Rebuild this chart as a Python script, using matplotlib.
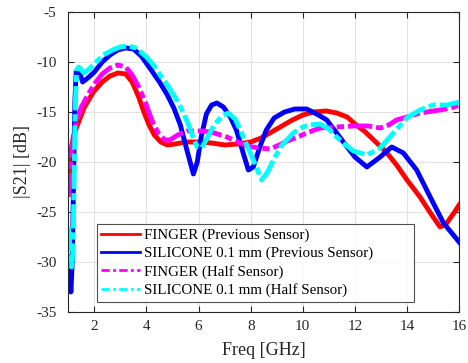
import numpy as np
import matplotlib.pyplot as plt

# S21 traces (GHz, dB)
f_red = [1.0, 1.1, 1.2, 1.35, 1.6, 1.96, 2.3, 2.6, 2.9, 3.2, 3.45, 3.7, 3.9, 4.1,
         4.3, 4.55, 4.8, 5.1, 5.5, 6.0, 6.5, 7.0, 7.5, 8.0, 8.4, 8.8, 9.2, 9.6,
         10.0, 10.4, 10.9, 11.3, 11.7, 12.0, 12.4, 12.8, 13.2, 13.6, 14.0, 14.5,
         14.9, 15.27, 15.5, 15.8, 16.0]
s_red = [-21.5, -18.8, -17.4, -16.3, -14.6, -13.0, -12.0, -11.4, -11.1, -11.2,
         -12.0, -13.5, -15.0, -16.3, -17.3, -18.0, -18.3, -18.2, -18.0, -18.0,
         -18.1, -18.3, -18.2, -18.0, -17.6, -17.0, -16.4, -15.8, -15.3, -15.0,
         -14.9, -15.1, -15.5, -16.2, -17.0, -18.0, -19.0, -20.3, -21.8, -23.5,
         -25.1, -26.5, -26.2, -25.1, -24.3]

f_blue = [1.0, 1.05, 1.1, 1.15, 1.2, 1.25, 1.3, 1.4, 1.55, 1.75, 2.0, 2.3, 2.6,
          2.9, 3.2, 3.5, 3.8, 4.1, 4.5, 4.8, 5.05, 5.3, 5.55, 5.8, 5.95, 6.1,
          6.3, 6.5, 6.7, 6.95, 7.2, 7.45, 7.7, 7.91, 8.1, 8.35, 8.6, 8.9, 9.3,
          9.7, 10.15, 10.6, 10.92, 11.3, 11.7, 12.0, 12.46, 12.97, 13.41, 13.86,
          14.37, 14.89, 15.4, 16.0]
s_blue = [-29.5, -31.5, -33.0, -30.0, -22.0, -14.0, -11.0, -10.8, -12.0, -11.6,
          -11.0, -10.0, -9.3, -8.8, -8.6, -8.7, -9.4, -10.5, -12.0, -13.3, -14.6,
          -16.3, -18.8, -21.2, -20.0, -17.5, -15.2, -14.3, -14.1, -14.5, -15.4,
          -16.8, -19.0, -20.8, -20.5, -18.5, -16.8, -15.6, -15.0, -14.7, -14.7,
          -15.3, -15.8, -17.1, -18.5, -19.5, -20.5, -19.5, -18.5, -19.1, -20.8,
          -23.5, -26.1, -28.0]

f_mag = [1.0, 1.05, 1.15, 1.3, 1.5, 1.75, 2.0, 2.3, 2.6, 2.9, 3.2, 3.45, 3.7,
         3.95, 4.2, 4.45, 4.7, 4.9, 5.2, 5.55, 5.9, 6.2, 6.6, 7.08, 7.5, 7.85,
         8.3, 8.74, 9.1, 9.4, 9.8, 10.15, 10.66, 11.3, 11.94, 12.5, 12.97, 13.3,
         13.6, 14.0, 14.5, 15.27, 15.7, 16.0]
s_mag = [-23.5, -21.5, -18.5, -16.0, -14.5, -13.3, -12.2, -11.2, -10.6, -10.3,
         -10.5, -11.3, -12.5, -14.0, -15.8, -17.1, -17.8, -17.8, -17.3, -16.9,
         -16.9, -16.9, -17.1, -17.5, -18.0, -18.4, -18.6, -18.7, -18.3, -17.9,
         -17.5, -17.1, -16.6, -16.5, -16.4, -16.4, -16.6, -16.3, -15.8, -15.5,
         -15.1, -14.8, -14.6, -14.3]

f_cyan = [1.0, 1.05, 1.12, 1.18, 1.22, 1.27, 1.32, 1.4, 1.6, 1.8, 2.0, 2.34, 2.7,
          2.98, 3.3, 3.6, 4.0, 4.3, 4.52, 4.85, 5.16, 5.4, 5.6, 5.8, 5.95, 6.12,
          6.35, 6.6, 6.9, 7.14, 7.4, 7.6, 7.85, 8.1, 8.42, 8.65, 8.87, 9.2, 9.64,
          10.0, 10.28, 10.66, 11.0, 11.3, 11.6, 11.94, 12.46, 12.97, 13.48, 13.99,
          14.5, 15.0, 15.53, 16.0]
s_cyan = [-26.5, -28.0, -30.5, -29.0, -22.0, -14.0, -10.8, -10.5, -11.1, -10.7,
          -10.2, -9.3, -8.8, -8.5, -8.4, -8.6, -9.5, -10.4, -11.3, -12.5, -13.8,
          -15.0, -16.2, -17.6, -18.5, -18.6, -17.5, -16.3, -15.4, -15.1, -15.7,
          -16.8, -18.3, -19.8, -21.8, -21.0, -19.8, -18.3, -17.1, -16.5, -16.3,
          -16.2, -16.7, -17.5, -18.2, -18.9, -19.3, -18.6, -17.1, -15.6, -14.8,
          -14.3, -14.3, -14.0]

labels = [
    "FINGER (Previous Sensor)",
    "SILICONE 0.1 mm (Previous Sensor)",
    "FINGER (Half Sensor)",
    "SILICONE 0.1 mm (Half Sensor)",
]

plt.rcParams["font.family"] = ["Liberation Serif", "DejaVu Serif"]
plt.rcParams["axes.unicode_minus"] = False

fig = plt.figure(figsize=(4.68, 3.63), dpi=100)
ax = fig.add_axes([0.146, 0.1405, 0.835, 0.8265])

dashdot = (0, (5, 0.8, 1.5, 0.8))
ax.plot(f_red, s_red, color="#ff0000", lw=3.5, label=labels[0])
ax.plot(f_blue, s_blue, color="#0000ff", lw=3.5, label=labels[1])
ax.plot(f_mag, s_mag, color="#ff00ff", lw=3.5, ls=dashdot, label=labels[2])
ax.plot(f_cyan, s_cyan, color="#00ffff", lw=3.5, ls=dashdot, label=labels[3])

ax.set_xlim(1, 16)
ax.set_ylim(-35, -5)
ax.set_xticks(np.arange(2, 17, 2))
ax.set_yticks(np.arange(-35, -4, 5))
ax.grid(True, color="#e3e3e3", lw=0.8)
ax.set_axisbelow(True)
ax.tick_params(direction="in", top=True, right=True, labelsize=11,
               length=4, width=0.8, colors="#262626")
ax.tick_params(axis="x", pad=6)
ax.tick_params(axis="y", pad=8.5)
for sp in ax.spines.values():
    sp.set_linewidth(0.8)
    sp.set_color("#262626")

ax.set_xlabel("Freq [GHz]", fontsize=13, color="#262626", labelpad=6)
ax.set_ylabel("|S21| [dB]", fontsize=13, color="#262626", labelpad=4)

leg = ax.legend(loc="lower left", bbox_to_anchor=(0.073, 0.034, 0.811, 0.26),
                mode="expand", fontsize=10.8, frameon=True, fancybox=False,
                edgecolor="#262626", handlelength=2.6, borderpad=0.3,
                labelspacing=0.3, handletextpad=0.25, borderaxespad=0)
leg.get_frame().set_linewidth(0.8)
for h in leg.get_lines():
    h.set_linewidth(2)
    h.set_dashes((3, 1.2, 1, 1.2)) if h.get_linestyle() != "-" else None

fig.savefig("out.png", dpi=100)
